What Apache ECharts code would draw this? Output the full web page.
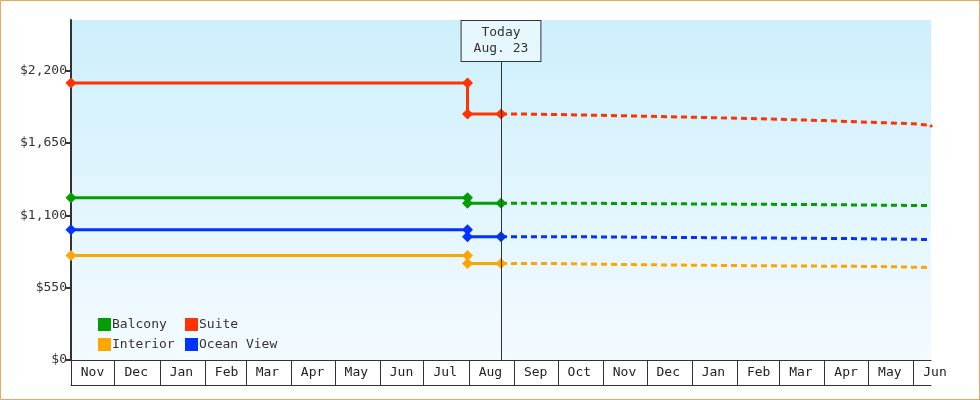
<!DOCTYPE html>
<html><head><meta charset="utf-8">
<script src="https://cdn.jsdelivr.net/npm/echarts@6/dist/echarts.min.js"></script>
<style>html,body{margin:0;padding:0;background:#fff}#c{width:978px;height:398px;border:1px solid #e8a860}</style>
</head><body><div id="c"></div>
<script>
const names = ['Balcony', 'Suite', 'Interior', 'Ocean View'];
const colors = ['#009e00', '#ff3300', '#ffa500', '#0033ff'];
const startDate = '2022-11-01', endDate = '2024-06-13';
const changeDate = '2023-07-31', todayDate = '2023-08-23';
// past prices: [before change, after change]
const pastBalcony = [1234, 1191];
const pastSuite = [2106, 1871];
const pastInterior = [794, 734];
const pastOcean = [991, 938];
// forecast steps: [date, price]
const fcBalcony = [['2023-08-23',1191],['2023-10-31',1181],['2024-04-01',1174],['2024-06-13',1174]];
const fcSuite = [['2023-08-23',1871],['2023-09-01',1866],['2023-10-01',1860],['2023-11-01',1853],['2023-12-01',1846],['2024-01-01',1838],['2024-02-01',1830],['2024-03-01',1820],['2024-04-01',1808],['2024-05-01',1796],['2024-06-01',1784],['2024-06-13',1770]];
const fcInterior = [['2023-08-23',734],['2023-09-25',726],['2023-11-15',718],['2024-01-28',711],['2024-05-07',703],['2024-06-13',703]];
const fcOcean = [['2023-08-23',938],['2023-09-30',931],['2023-12-31',923],['2024-04-20',916],['2024-06-13',916]];
const yTicks = [0, 550, 1100, 1650, 2200];

const past = [pastBalcony, pastSuite, pastInterior, pastOcean];
const fc = [fcBalcony, fcSuite, fcInterior, fcOcean];
const font = 'DejaVu Sans Mono';
const series = [];
names.forEach((n, i) => {
  const p = past[i];
  series.push({
    name: n, type: 'line', color: colors[i], symbol: 'diamond', symbolSize: 11,
    lineStyle: {width: 3}, animation: false,
    data: [[startDate, p[0]], [changeDate, p[0]], [changeDate, p[1]], [todayDate, p[1]]]
  });
  series.push({
    name: n, type: 'line', color: colors[i], step: 'end', showSymbol: false,
    lineStyle: {width: 3, type: [6, 4]}, animation: false, data: fc[i]
  });
});
series.push({
  type: 'line', data: [], silent: true,
  markLine: {
    symbol: 'none', silent: true, animation: false,
    lineStyle: {color: '#333', width: 1, type: 'solid'},
    label: {show: true, position: 'end', formatter: 'Today\nAug. 23', fontFamily: font, fontSize: 13, color: '#333',
      backgroundColor: '#e6f7fd', borderColor: '#333', borderWidth: 1, padding: [4, 12, 4, 12], lineHeight: 16, distance: 0},
    data: [[{coord: [todayDate, 0]}, {coord: [todayDate, 2274]}]]
  }
});

const chart = echarts.init(document.getElementById('c'));
chart.setOption({
  animation: false,
  grid: {left: 70, right: 48, top: 19, bottom: 39,
    show: true, borderWidth: 0,
    backgroundColor: {type: 'linear', x: 0, y: 0, x2: 0, y2: 1, colorStops: [{offset: 0, color: '#cdeffc'}, {offset: 1, color: '#f4fbff'}]}},
  legend: {data: names, left: 92, top: 312, width: 200, orient: 'horizontal', itemWidth: 13, itemHeight: 13, itemGap: 7,
    icon: 'rect', formatter: '{a|{name}}',
    textStyle: {fontFamily: font, fontSize: 13, color: '#333', padding: [0, 0, 0, -4],
      rich: {a: {width: 66, fontFamily: font, fontSize: 13, color: '#333', lineHeight: 20}}}},
  xAxis: [{
    type: 'time', min: startDate, max: endDate, minInterval: 28 * 86400000, maxInterval: 31 * 86400000,
    axisLine: {lineStyle: {color: '#333', width: 1}},
    axisTick: {show: true, length: 25, lineStyle: {color: '#333'}},
    minorTick: {show: false}, splitLine: {show: false},
    axisLabel: {formatter: '{MMM}', fontFamily: font, fontSize: 13, color: '#222', margin: 6, padding: [0, 0, 0, 43], showMinLabel: true, showMaxLabel: false, hideOverlap: false}
  }, {
    type: 'time', min: startDate, max: endDate, position: 'bottom', offset: 25,
    axisLine: {lineStyle: {color: '#333', width: 1}}, axisTick: {show: false}, axisLabel: {show: false}, splitLine: {show: false}
  }],
  yAxis: {
    type: 'value', min: 0, max: 2585, interval: 550,
    axisLine: {show: true, lineStyle: {color: '#333', width: 2}},
    axisTick: {show: true, length: 5, lineStyle: {color: '#333', width: 2}},
    splitLine: {show: false},
    axisLabel: {fontFamily: font, fontSize: 13, color: '#333', margin: 4, showMaxLabel: false,
      formatter: v => yTicks.includes(v) ? '$' + v.toLocaleString('en-US') : ''}
  },
  series: series
});
</script></body></html>
